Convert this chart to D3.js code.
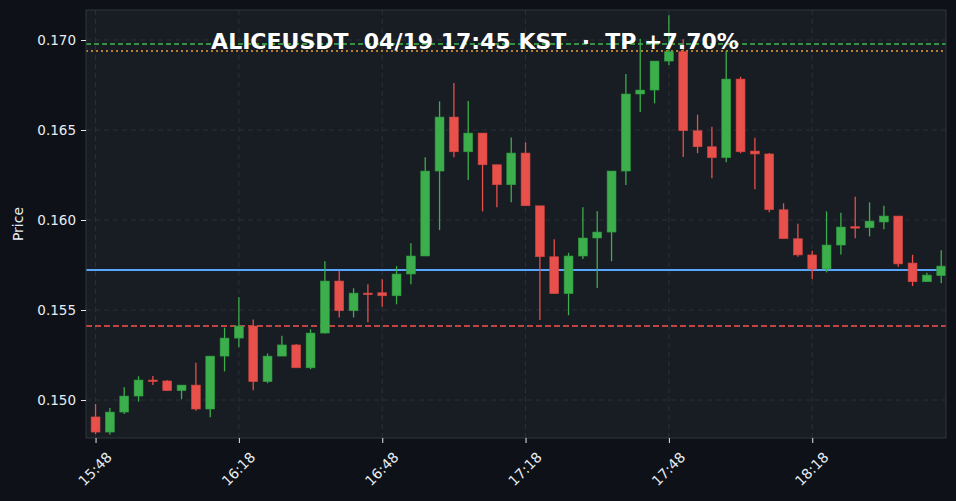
<!DOCTYPE html>
<html><head><meta charset="utf-8">
<script src="https://cdn.jsdelivr.net/npm/d3@7"></script>
<style>
html,body{margin:0;padding:0;background:#0e1117;}
svg{display:block;}
</style></head>
<body>
<svg id="chart" width="956" height="501"></svg>
<script>
// ---- data ----
const startTime = "2024-04-19 15:48";
const intervalMin = 3;
const opens  = [0.14906,0.14822,0.14933,0.15022,0.15111,0.15106,0.15052,0.15083,0.14950,0.15244,
                0.15344,0.15411,0.15102,0.15244,0.15306,0.15179,0.15372,0.15661,0.15496,0.15594,
                0.15596,0.15579,0.15700,0.15800,0.16272,0.16572,0.16379,0.16483,0.16307,0.16196,
                0.16372,0.16079,0.15796,0.15591,0.15800,0.15900,0.15933,0.16272,0.16700,0.16722,
                0.16883,0.16935,0.16496,0.16407,0.16346,0.16783,0.16383,0.16367,0.16057,0.15896,
                0.15806,0.15728,0.15861,0.15963,0.15957,0.15989,0.16022,0.15761,0.15657,0.15691];
const highs  = [0.14978,0.14956,0.15071,0.15132,0.15133,0.15111,0.15083,0.15207,0.15244,0.15402,
                0.15571,0.15448,0.15259,0.15357,0.15311,0.15393,0.15771,0.15718,0.15621,0.15643,
                0.15671,0.15744,0.15871,0.16348,0.16659,0.16761,0.16661,0.16483,0.16307,0.16459,
                0.16432,0.16079,0.15893,0.15818,0.16071,0.16048,0.16272,0.16811,0.17007,0.16883,
                0.17137,0.17004,0.16585,0.16518,0.16939,0.16796,0.16457,0.16372,0.16093,0.15979,
                0.15829,0.16048,0.16041,0.16129,0.16098,0.16079,0.16022,0.15807,0.15707,0.15832];
const lows   = [0.14811,0.14809,0.14922,0.14991,0.15083,0.15050,0.15004,0.14941,0.14904,0.15159,
                0.15293,0.15054,0.15093,0.15244,0.15179,0.15171,0.15370,0.15459,0.15459,0.15432,
                0.15518,0.15532,0.15643,0.15800,0.15944,0.16348,0.16222,0.16048,0.16071,0.16098,
                0.16079,0.15444,0.15591,0.15471,0.15783,0.15622,0.15771,0.16194,0.16600,0.16648,
                0.16861,0.16350,0.16371,0.16232,0.16321,0.16371,0.16171,0.16043,0.15896,0.15796,
                0.15671,0.15709,0.15809,0.15898,0.15909,0.15948,0.15741,0.15633,0.15657,0.15648];
const closes = [0.14822,0.14933,0.15022,0.15111,0.15106,0.15052,0.15083,0.14950,0.15244,0.15344,
                0.15411,0.15102,0.15244,0.15306,0.15179,0.15372,0.15661,0.15496,0.15594,0.15592,
                0.15579,0.15700,0.15800,0.16272,0.16572,0.16379,0.16483,0.16307,0.16196,0.16372,
                0.16079,0.15796,0.15591,0.15800,0.15900,0.15933,0.16272,0.16700,0.16722,0.16883,
                0.16935,0.16496,0.16407,0.16346,0.16783,0.16379,0.16367,0.16057,0.15896,0.15806,
                0.15728,0.15861,0.15961,0.15956,0.15994,0.16022,0.15756,0.15657,0.15694,0.15744];
const yTickValues = [0.150, 0.155, 0.160, 0.165, 0.170];
const xTickLabels = ["15:48","16:18","16:48","17:18","17:48","18:18"];
const tpLevel = 0.16978;      // green dashed
const targetLevel = 0.16939;  // orange dotted
const entryLevel = 0.15722;   // blue solid
const stopLevel = 0.15411;    // red dashed
const titleText = "ALICEUSDT  04/19 17:45 KST  ·  TP +7.70%";
const yLabel = "Price";

// ---- build ----
const parse = d3.timeParse("%Y-%m-%d %H:%M");
const t0 = parse(startTime);
const candles = opens.map((o, i) => ({
  t: d3.timeMinute.offset(t0, i * intervalMin),
  o, h: highs[i], l: lows[i], c: closes[i]
}));

const svg = d3.select("#chart");
const W = 956, H = 501;
const m = {left: 86, right: 10, top: 10, bottom: 63};
const x0 = m.left, x1 = W - m.right, y0 = m.top, y1 = H - m.bottom;

const x = d3.scaleTime()
  .domain([d3.timeMinute.offset(candles[0].t, -intervalMin / 2),
           d3.timeMinute.offset(candles[candles.length - 1].t, intervalMin / 2)])
  .range([x0, x1]);
const y = d3.scaleLinear().domain([0.14789, 0.171667]).range([y1, y0]);

const GREEN = "#3cae4c", RED = "#e8504b";
const fmtHM = d3.timeFormat("%H:%M");
const xTicks = candles.map(d => d.t).filter(t => xTickLabels.includes(fmtHM(t)));

svg.append("rect").attr("width", W).attr("height", H).attr("fill", "#0e1117");
svg.append("rect").attr("x", x0).attr("y", y0).attr("width", x1 - x0).attr("height", y1 - y0)
  .attr("fill", "#181c23");

// grid
const grid = svg.append("g");
grid.selectAll(".gy").data(yTickValues).join("line")
  .attr("x1", x0).attr("x2", x1).attr("y1", d => y(d)).attr("y2", d => y(d))
  .attr("stroke", "#2b3039").attr("stroke-width", 1).attr("stroke-dasharray", "5,4");
grid.selectAll(".gx").data(xTicks).join("line")
  .attr("x1", d => x(d)).attr("x2", d => x(d)).attr("y1", y0).attr("y2", y1)
  .attr("stroke", "#2b3039").attr("stroke-width", 1).attr("stroke-dasharray", "5,4");

// level lines
const levels = svg.append("g");
function hline(v, color, w, dash) {
  levels.append("line").attr("x1", x0).attr("x2", x1).attr("y1", y(v)).attr("y2", y(v))
    .attr("stroke", color).attr("stroke-width", w).attr("stroke-dasharray", dash);
}
hline(entryLevel, "#58a6ff", 2, null);
hline(stopLevel, "#f85149", 1.6, "6,3");
hline(targetLevel, "#f0a030", 1.6, "2,3");
hline(tpLevel, "#3fb950", 1.6, "5,3");

// candles
const step = x(candles[1].t) - x(candles[0].t);
const bw = step * 0.62;
const cg = svg.append("g");
cg.selectAll(".wick").data(candles).join("line")
  .attr("x1", d => x(d.t)).attr("x2", d => x(d.t))
  .attr("y1", d => y(d.h)).attr("y2", d => y(d.l))
  .attr("stroke", d => d.c >= d.o ? GREEN : RED).attr("stroke-width", 1.3);
cg.selectAll(".body").data(candles).join("rect")
  .attr("x", d => x(d.t) - bw / 2).attr("width", bw)
  .attr("y", d => y(Math.max(d.o, d.c)))
  .attr("height", d => Math.max(1.5, Math.abs(y(d.o) - y(d.c))))
  .attr("fill", d => d.c >= d.o ? GREEN : RED)
  .attr("stroke", d => d.c >= d.o ? "#2f9a40" : "#d04440").attr("stroke-width", 0.6);

// frame
svg.append("rect").attr("x", x0).attr("y", y0).attr("width", x1 - x0).attr("height", y1 - y0)
  .attr("fill", "none").attr("stroke", "#30363d").attr("stroke-width", 1);

// axes
const yAxis = d3.axisLeft(y).tickValues(yTickValues).tickFormat(d3.format(".3f")).tickSize(5).tickPadding(5);
const ya = svg.append("g").attr("transform", `translate(${x0},0)`).call(yAxis);
ya.select(".domain").remove();
ya.selectAll("line").attr("stroke", "#e6e6e6");
ya.selectAll("text").attr("fill", "#e6edf3").style("font-family", "DejaVu Sans").style("font-size", "13.5px");

const xAxis = d3.axisBottom(x).tickValues(xTicks).tickFormat(fmtHM).tickSize(5);
const xa = svg.append("g").attr("transform", `translate(0,${y1})`).call(xAxis);
xa.select(".domain").remove();
xa.selectAll("line").attr("stroke", "#e6e6e6");
xa.selectAll("text").attr("fill", "#e6edf3").style("font-family", "DejaVu Sans").style("font-size", "14px")
  .attr("text-anchor", "middle").attr("dominant-baseline", "central")
  .attr("y", 0).attr("dy", null)
  .attr("transform", "translate(-1,31) rotate(-45)");

// y label
svg.append("text").attr("transform", `translate(23,${(y0 + y1) / 2}) rotate(-90)`)
  .attr("text-anchor", "middle").attr("fill", "#e6edf3")
  .style("font-family", "DejaVu Sans").style("font-size", "14px").text(yLabel);

// title
svg.append("text").attr("x", 475).attr("y", 49).attr("text-anchor", "middle")
  .attr("fill", "#ffffff").style("font-family", "DejaVu Sans").style("font-weight", "bold")
  .style("font-size", "22px").style("white-space", "pre").attr("xml:space", "preserve").text(titleText);
</script>
</body></html>
